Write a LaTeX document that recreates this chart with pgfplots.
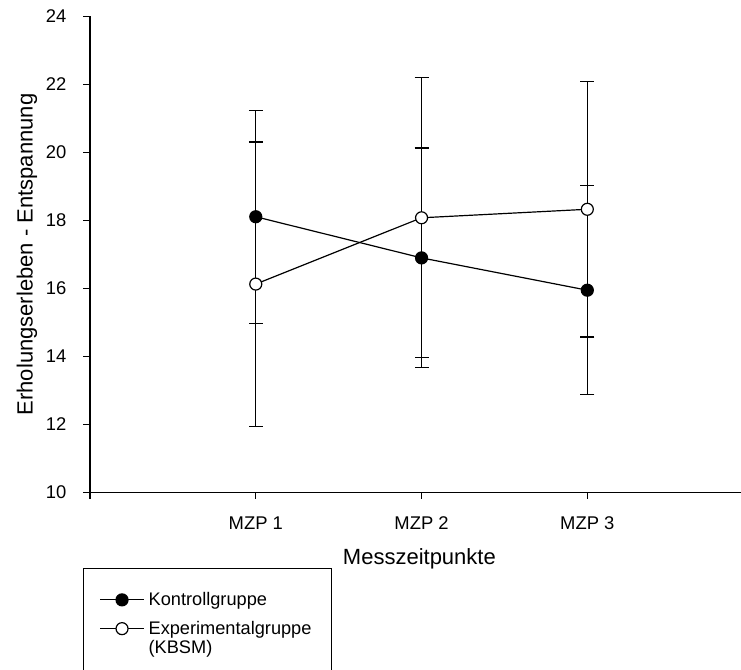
\documentclass[border=0pt]{standalone}
\usepackage{fontspec}
\setmainfont{Liberation Sans}
\usepackage{pgfplots}
\pgfplotsset{compat=1.18}
\pgfplotsset{
  legimgA/.style={legend image code/.code={\draw[mark repeat=2,mark phase=2,##1] plot coordinates {(0pt,0.5pt)(11pt,0.5pt)(22pt,0.5pt)};}},
  legimgB/.style={legend image code/.code={\draw[mark repeat=2,mark phase=2,##1] plot coordinates {(0pt,5.3pt)(11pt,5.3pt)(22pt,5.3pt)};}},
}
\begin{document}
\begin{tikzpicture}
\path[use as bounding box] (0pt,0pt) rectangle (370.5pt,335pt);
\begin{axis}[
  at={(45pt,88.75pt)}, anchor=south west,
  scale only axis, width=325.5pt, height=238pt,
  xmin=0, xmax=3.927, ymin=10, ymax=24,
  axis x line*=bottom, axis y line*=left,
  axis line style={line width=0.6pt, black},
  xtick={0,1,2,3}, xticklabels={,MZP 1,MZP 2,MZP 3},
  ytick={10,12,...,24},
  tick align=outside, major tick length=3.25pt,
  tick style={line width=0.6pt, black},
  /pgf/number format/assume math mode=true,
  ticklabel style={font=\fontsize{9.2}{10}\selectfont},
  xticklabel style={anchor=north, inner sep=0pt, yshift=-8.7pt},
  yticklabel style={anchor=east, inner sep=0pt, xshift=-8.35pt},
  xlabel={Messzeitpunkte}, ylabel={Erholungserleben - Entspannung},
  label style={font=\fontsize{11}{13}\selectfont},
  xlabel style={at={(axis description cs:0.506,-0.1397)}, anchor=center},
  ylabel style={at={(axis description cs:-0.0968,0.5)}, anchor=center},
  legend style={draw=black, line width=0.6pt, at={(axis description cs:-0.011,-0.159)}, anchor=north west,
    font=\fontsize{9.1}{9.4}\selectfont, inner xsep=8pt, inner ysep=10pt, row sep=2.4pt,
    cells={anchor=west, align=left}, nodes={inner sep=2pt, text depth=0.15em}},
]
\addplot[black, line width=0.6pt, mark=*, mark size=3pt, mark options={fill=black, draw=black, solid},
  legimgA,
  error bars/.cd, y dir=both, y explicit,
  error bar style={line width=0.6pt, black},
  error mark options={rotate=90, mark size=3.5pt, line width=0.6pt, black}]
  coordinates {(1,18.11) +- (0,3.13) (2,16.90) +- (0,3.23) (3,15.95) +- (0,3.075)};
\addlegendentry{Kontrollgruppe}
\addplot[black, line width=0.6pt, mark=*, mark size=3pt, mark options={fill=white, draw=black, solid},
  legimgB,
  error bars/.cd, y dir=both, y explicit,
  error bar style={line width=0.6pt, black},
  error mark options={rotate=90, mark size=3.5pt, line width=0.6pt, black}]
  coordinates {(1,16.13) +- (0,4.18) (2,18.08) +- (0,4.12) (3,18.33) +- (0,3.755)};
\addlegendentry{Experimentalgruppe\\(KBSM)}
\end{axis}
\end{tikzpicture}
\end{document}
